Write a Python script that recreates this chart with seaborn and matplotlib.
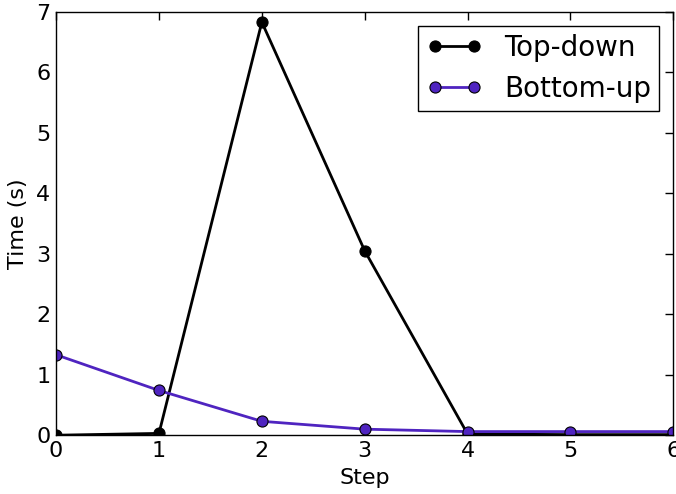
import numpy as np
import pandas as pd
import matplotlib
matplotlib.use("Agg")
import matplotlib.pyplot as plt
import seaborn as sns

steps = [0, 1, 2, 3, 4, 5, 6]
top_down = [0.0, 0.03, 6.83, 3.05, 0.02, 0.01, 0.01]
bottom_up = [1.33, 0.74, 0.23, 0.10, 0.06, 0.06, 0.06]
series_names = ["Top-down", "Bottom-up"]
colors = ["#000000", "#4f24c0"]

df = pd.DataFrame({
    "Step": steps * 2,
    "Time": top_down + bottom_up,
    "method": [series_names[0]] * len(steps) + [series_names[1]] * len(steps),
})

sns.set_style("white")
plt.rcParams.update({
    "font.family": ["DejaVu Sans"],
    "text.color": "black",
    "axes.labelcolor": "black",
    "xtick.color": "black",
    "ytick.color": "black",
    "xtick.direction": "in",
    "ytick.direction": "in",
    "xtick.top": True,
    "ytick.right": True,
    "xtick.major.size": 6,
    "ytick.major.size": 6,
    "axes.edgecolor": "black",
    "axes.linewidth": 1.0,
})

fig = plt.figure(figsize=(6.76, 4.94), dpi=100)
ax = fig.add_axes([0.083, 0.119, 0.913, 0.857])

sns.lineplot(
    data=df, x="Step", y="Time", hue="method",
    palette=dict(zip(series_names, colors)),
    marker="o", markersize=8, markeredgecolor="black", markeredgewidth=0.8,
    linewidth=2, legend=False, ax=ax,
)

ax.set_xlim(0, 6)
ax.set_ylim(0, 7)
ax.set_xticks(range(0, 7))
ax.set_yticks(range(0, 8))
ax.tick_params(labelsize=16, colors="black", width=1, pad=4)
ax.set_xlabel("Step", fontsize=16, labelpad=5)
ax.set_ylabel("Time (s)", fontsize=16, labelpad=6)
for s in ax.spines.values():
    s.set_visible(True)
    s.set_color("black")

leg = ax.legend(ax.lines[:2], series_names, loc="upper right", numpoints=2,
                fontsize=20, frameon=True, fancybox=False, framealpha=1,
                edgecolor="black", handlelength=2.0, handletextpad=0.8,
                borderpad=0.3, labelspacing=0.45, borderaxespad=0.5)
leg.get_frame().set_linewidth(1.0)

fig.savefig("out.png", dpi=100)
